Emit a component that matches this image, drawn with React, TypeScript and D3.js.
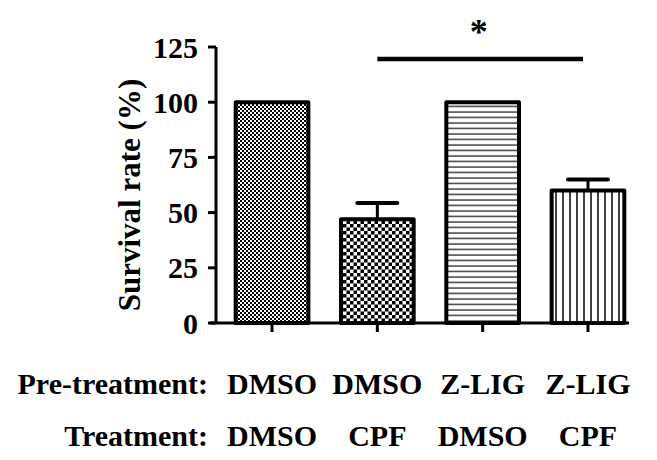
import React from "react";
import * as d3 from "d3";

const groups = ["g1", "g2", "g3", "g4"];
const preTreatment = ["DMSO", "DMSO", "Z-LIG", "Z-LIG"];
const treatment = ["DMSO", "CPF", "DMSO", "CPF"];
const survival = [100, 47, 100, 60];
const errors = [0, 7.3, 0, 5];
const patterns = ["fineChecker", "bigChecker", "hLines", "vLines"];
const yTicks = [0, 25, 50, 75, 100, 125];
const yLabel = "Survival rate (%)";
const sigPair = [1, 3];
const sigMark = "*";

const W = 657;
const H = 460;
const FONT = "Liberation Serif";

function T(props: any) {
  const { size, children, ...rest } = props;
  return (
    <text {...rest} fontFamily={FONT} fontWeight="bold" fontSize={size}>
      {children}
    </text>
  );
}

export default function App() {
  const y = d3.scaleLinear().domain([0, 125]).range([323, 47]);
  const x = d3
    .scaleBand<string>()
    .domain(groups)
    .range([216, 644])
    .paddingInner(0.31)
    .paddingOuter(0.187);
  const bw = x.bandwidth();
  const cx = (i: number) => (x(groups[i]) as number) + bw / 2;
  const axisX = 216;
  const axisY = y(0);
  const sigY = 59;

  return (
    <div style={{ position: "absolute", left: 0, top: 0, fontFamily: FONT }}>
      <svg width={W} height={H} style={{ display: "block", background: "#fff" }}>
        <defs>
          <pattern id="fineChecker" width={4} height={4} patternUnits="userSpaceOnUse">
            <rect width={4} height={4} fill="#fff" />
            <rect width={2} height={2} fill="#000" />
            <rect x={2} y={2} width={2} height={2} fill="#000" />
          </pattern>
          <pattern id="bigChecker" width={7} height={7} patternUnits="userSpaceOnUse">
            <rect width={7} height={7} fill="#fff" />
            <rect width={3.5} height={3.5} fill="#000" />
            <rect x={3.5} y={3.5} width={3.5} height={3.5} fill="#000" />
          </pattern>
          <pattern id="hLines" width={10} height={5.5} patternUnits="userSpaceOnUse">
            <rect width={10} height={5.5} fill="#fff" />
            <line x1={0} x2={10} y1={2} y2={2} stroke="#222" strokeWidth={1.3} />
          </pattern>
          <pattern id="vLines" width={7} height={10} patternUnits="userSpaceOnUse">
            <rect width={7} height={10} fill="#fff" />
            <line x1={3} x2={3} y1={0} y2={10} stroke="#000" strokeWidth={1.5} />
          </pattern>
        </defs>

        {/* bars */}
        {groups.map((g, i) => (
          <rect
            key={g}
            x={x(g)}
            y={y(survival[i])}
            width={bw}
            height={axisY - y(survival[i])}
            fill={`url(#${patterns[i]})`}
            stroke="#000"
            strokeWidth={4}
            strokeLinejoin="round"
          />
        ))}

        {/* error bars */}
        {groups.map((g, i) =>
          errors[i] > 0 ? (
            <g key={"e" + g} stroke="#000">
              <line
                x1={cx(i)}
                x2={cx(i)}
                y1={y(survival[i])}
                y2={y(survival[i] + errors[i])}
                strokeWidth={3}
              />
              <line
                x1={cx(i) - 20}
                x2={cx(i) + 20}
                y1={y(survival[i] + errors[i])}
                y2={y(survival[i] + errors[i])}
                strokeWidth={4}
                strokeLinecap="round"
              />
            </g>
          ) : null
        )}

        {/* y axis */}
        <line x1={axisX} x2={axisX} y1={y(125)} y2={axisY} stroke="#000" strokeWidth={3} />
        {yTicks.map((t) => (
          <g key={t}>
            <line x1={axisX - 8} x2={axisX} y1={y(t)} y2={y(t)} stroke="#000" strokeWidth={3} />
            <T x={198} y={y(t)} dy="0.35em" textAnchor="end" size={30}>
              {t}
            </T>
          </g>
        ))}
        <T
          transform={`translate(140, ${(y(0) + y(125)) / 2 + 10}) rotate(-90)`}
          textAnchor="middle"
          size={31}
        >
          {yLabel}
        </T>

        {/* x axis */}
        <line x1={210} x2={629} y1={axisY} y2={axisY} stroke="#000" strokeWidth={3} />
        {groups.map((g, i) => (
          <line key={"t" + g} x1={cx(i)} x2={cx(i)} y1={axisY} y2={axisY + 9} stroke="#000" strokeWidth={3} />
        ))}

        {/* significance */}
        <line
          x1={cx(sigPair[0])}
          x2={cx(sigPair[1]) - 5}
          y1={sigY}
          y2={sigY}
          stroke="#000"
          strokeWidth={4.5}
        />
        <T x={(cx(sigPair[0]) + cx(sigPair[1])) / 2 - 4} y={44} textAnchor="middle" size={36}>
          {sigMark}
        </T>

        {/* category labels */}
        <T x={208} y={394} textAnchor="end" size={30}>Pre-treatment:</T>
        <T x={208} y={446} textAnchor="end" size={30}>Treatment:</T>
        {groups.map((g, i) => (
          <g key={"l" + g}>
            <T x={cx(i)} y={394} textAnchor="middle" size={30}>
              {preTreatment[i]}
            </T>
            <T x={cx(i)} y={446} textAnchor="middle" size={30}>
              {treatment[i]}
            </T>
          </g>
        ))}
      </svg>
    </div>
  );
}
